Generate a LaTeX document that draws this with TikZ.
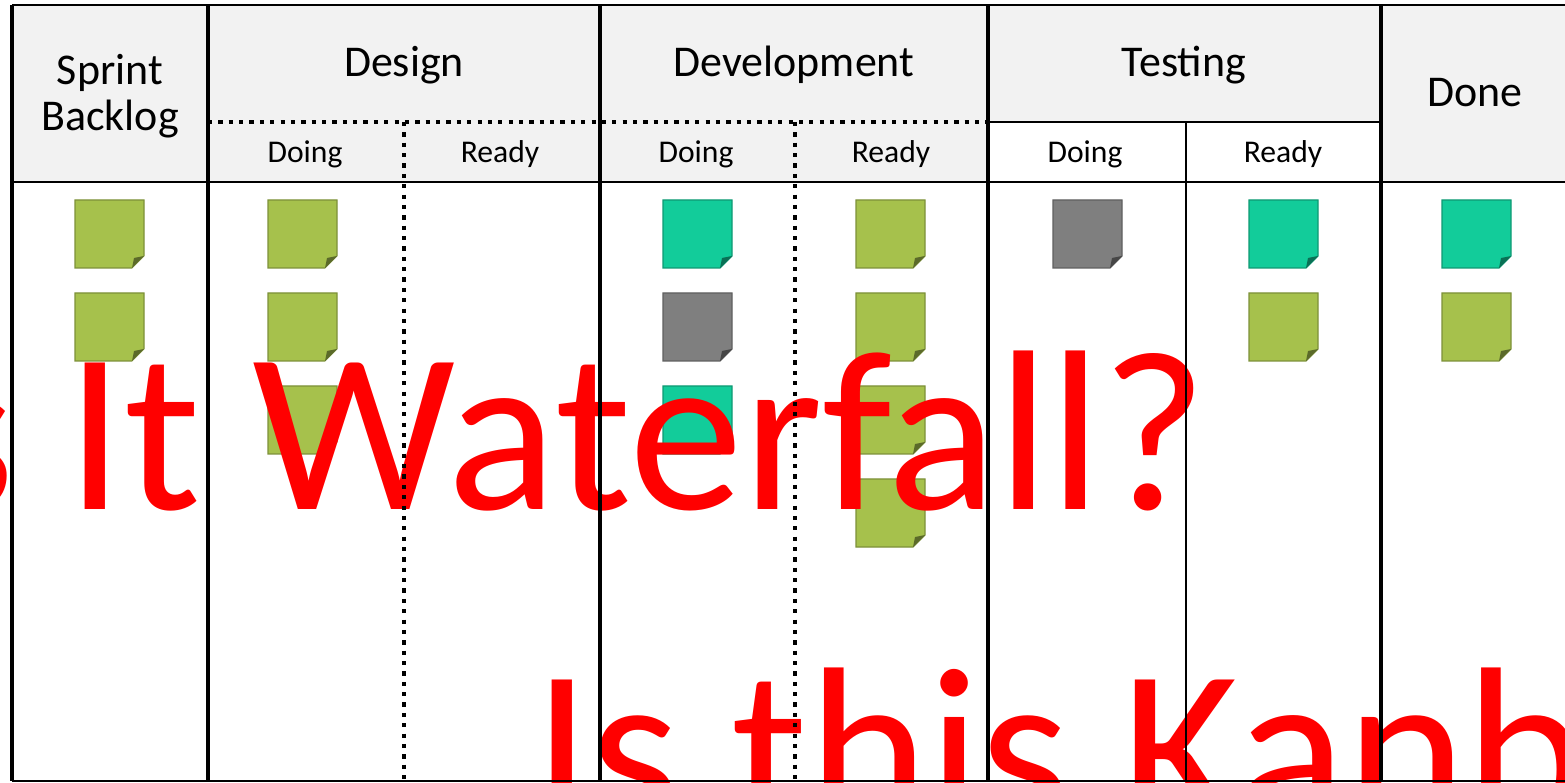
\documentclass[tikz,border=0pt]{standalone}
\usepackage{fontspec}
\setmainfont{Carlito}
\usepackage{tikz}

\definecolor{headgray}{HTML}{F2F2F2}
\definecolor{cardgreen}{HTML}{A6C14C}
\definecolor{cardteal}{HTML}{12CC9A}
\definecolor{cardgray}{HTML}{7F7F7F}

\tikzset{
  boardline/.style={line width=2pt},
  thinline/.style={line width=1.3pt},
  dotline/.style={line width=2.4pt, dash pattern=on 2.4pt off 3.5pt},
  colhead/.style={font=\fontsize{25}{26}\selectfont, align=center},
  subhead/.style={font=\fontsize{18}{20}\selectfont},
  shout/.style={text=red, font=\fontsize{130}{130}\selectfont, inner sep=0pt}
}

\newcommand{\sticky}[3]{%
  \filldraw[fill=#3, draw=#3!75!black, line width=0.6pt]
    (#1,#2) -- ++(69,0) -- ++(0,56) -- ++(-12,12) -- ++(-57,0) -- cycle;
  \fill[#3!55!black] (#1,#2) ++(69,56) -- ++(-12,12) -- ++(2,-10) -- cycle;
}

\begin{document}
\begin{tikzpicture}[x=0.02cm, y=-0.02cm]
              \useasboundingbox (0,0) rectangle (1565,783);
              \clip (0,0) rectangle (1565,783);

              \fill[headgray] (12,5) rectangle (1565,182);
              \fill[white] (988,122) rectangle (1381,182);

              \sticky{75}{200}{cardgreen}
              \sticky{75}{293}{cardgreen}
              \sticky{268}{200}{cardgreen}
              \sticky{268}{293}{cardgreen}
              \sticky{268}{386}{cardgreen}
              \sticky{663}{200}{cardteal}
              \sticky{663}{293}{cardgray}
              \sticky{663}{386}{cardteal}
              \sticky{856}{200}{cardgreen}
              \sticky{856}{293}{cardgreen}
              \sticky{856}{386}{cardgreen}
              \sticky{856}{479}{cardgreen}
              \sticky{1053}{200}{cardgray}
              \sticky{1249}{200}{cardteal}
              \sticky{1249}{293}{cardgreen}
              \sticky{1442}{200}{cardteal}
              \sticky{1442}{293}{cardgreen}

              \node[shout, anchor=base east] (waterfall) at (1208,510) {Is It Waterfall?};
              \node[shout, anchor=base west] (kanban) at (533,826) {Is this Kanban};

              \node[colhead] (backlog) at (110,96) {Sprint\\Backlog};
              \node[colhead, anchor=base] (design) at (404,77) {Design};
              \node[colhead, anchor=base] (develop) at (794,77) {Development};
              \node[colhead, anchor=base] (testing) at (1184,77) {Testing};
              \node[colhead, anchor=base] (done) at (1475,107) {Done};

              \node[subhead, anchor=base] (desdoing) at (305,163) {Doing};
              \node[subhead, anchor=base] (desready) at (500,163) {Ready};
              \node[subhead, anchor=base] (devdoing) at (696,163) {Doing};
              \node[subhead, anchor=base] (devready) at (891,163) {Ready};
              \node[subhead, anchor=base] (testdoing) at (1085,163) {Doing};
              \node[subhead, anchor=base] (testready) at (1283,163) {Ready};

              \draw[thinline] (12,5) -- (1565,5);
              \draw[thinline] (12,182) -- (1565,182);
              \draw[thinline] (12,781) -- (1565,781);
              \draw[thinline] (988,122) -- (1381,122);
              \draw[thinline] (1186,122) -- (1186,781);
              \draw[dotline] (208,122) -- (988,122);
              \draw[dotline] (404,122) -- (404,783);
              \draw[dotline] (795,122) -- (795,783);
              \draw[boardline] (12,5) -- (12,781);
              \draw[boardline] (208,5) -- (208,781);
              \draw[boardline] (600,5) -- (600,781);
              \draw[boardline] (988,5) -- (988,781);
              \draw[boardline] (1381,5) -- (1381,781);
            \end{tikzpicture}
\end{document}
